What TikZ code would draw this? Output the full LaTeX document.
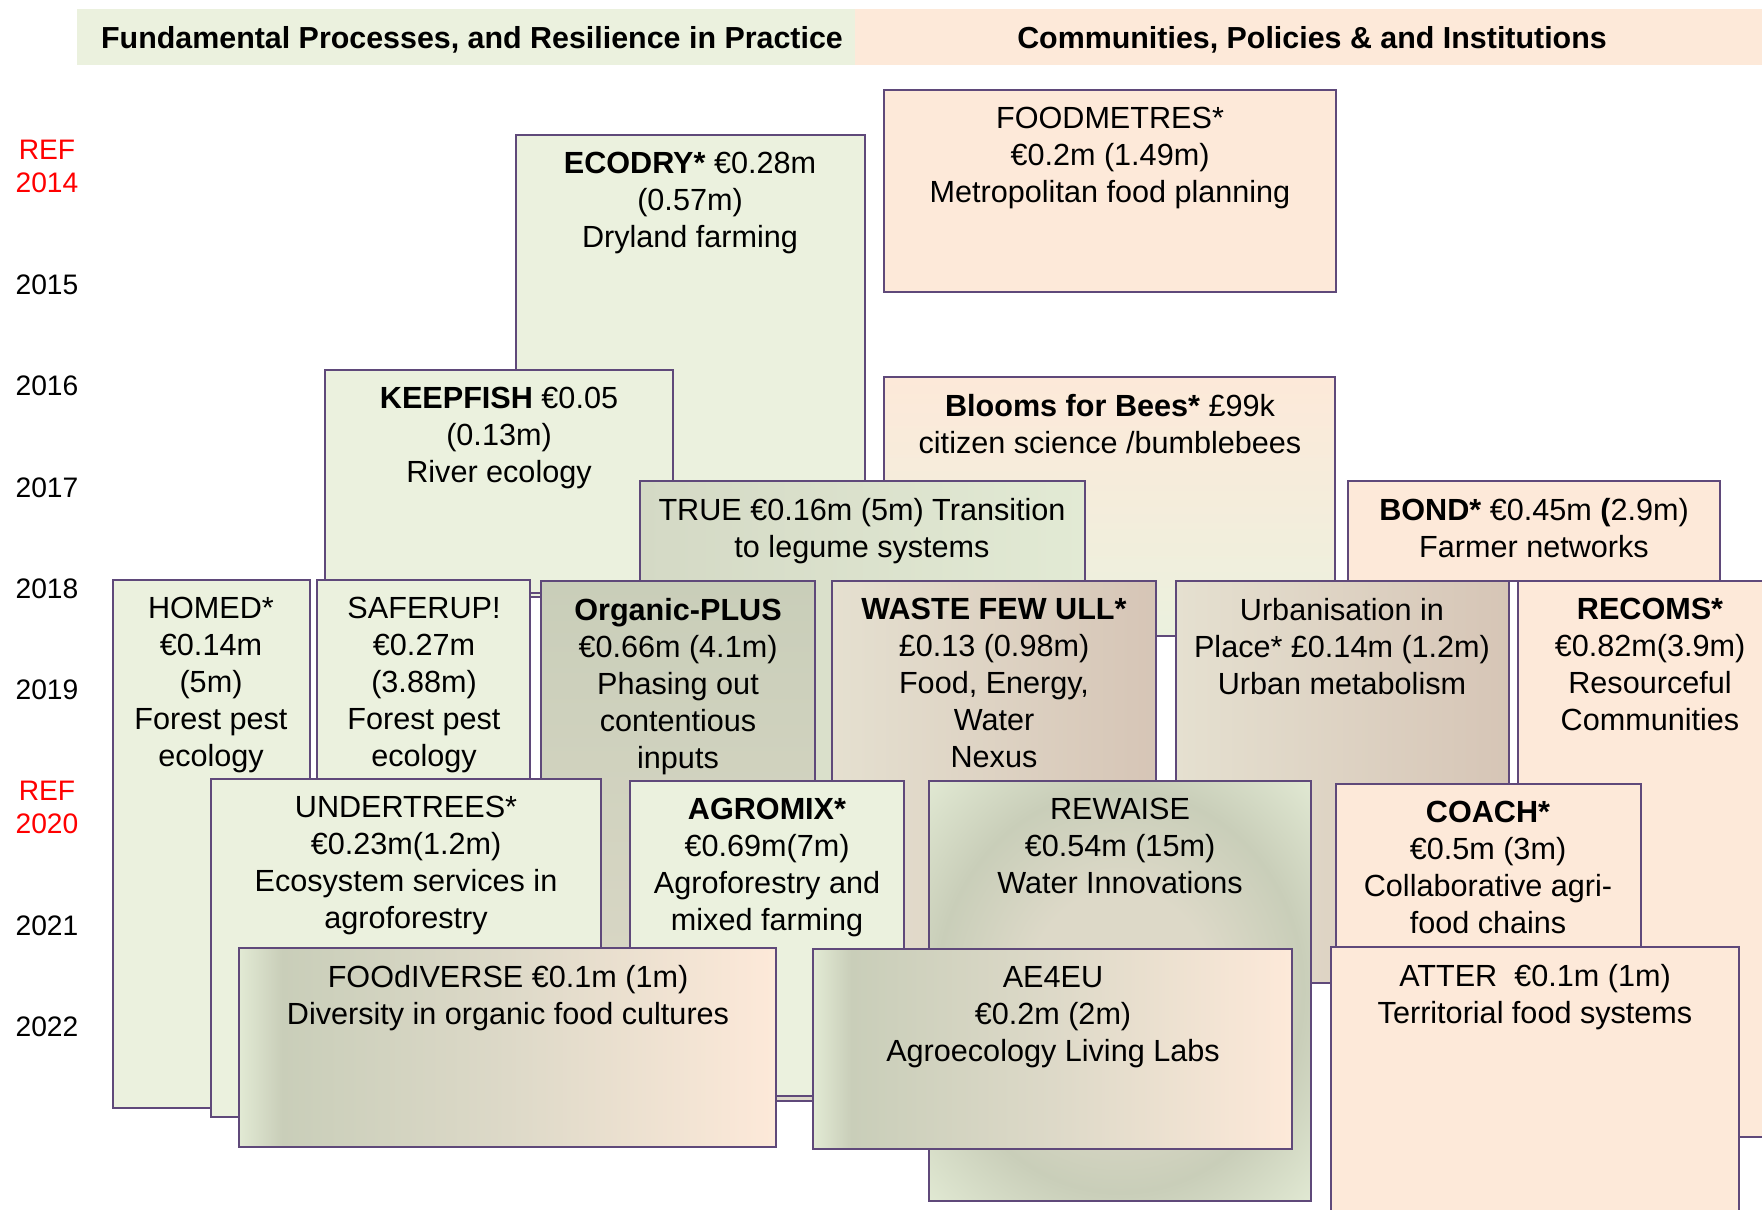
\documentclass[tikz,border=0pt]{standalone}
\usepackage{fontspec}
\setmainfont{Liberation Sans}
\definecolor{projgreen}{HTML}{EBF1DE}
\definecolor{projpeach}{HTML}{FDE9D9}
\definecolor{projline}{HTML}{5F497A}
\definecolor{projgrey}{HTML}{C9CEB9}
\definecolor{projlight}{HTML}{E2EAD4}
\definecolor{projsand}{HTML}{DDD9C8}
\definecolor{projtan}{HTML}{D6C5B6}
\definecolor{projbeige}{HTML}{E5E0D0}
\definecolor{projsage}{HTML}{D4D9C5}
\pgfdeclarehorizontalshading{mixshade}{100bp}{color(0bp)=(projlight); color(25bp)=(projlight); color(29bp)=(projgrey); color(50bp)=(projsand); color(75bp)=(projpeach); color(100bp)=(projpeach)}
\pgfdeclareradialshading{ringshade}{\pgfpoint{0bp}{0bp}}{color(0bp)=(projsand); color(12bp)=(projsand); color(24bp)=(projgrey); color(36bp)=(projlight); color(50bp)=(projlight)}
\tikzset{
  box/.style={draw=projline, line width=1.2pt},
  greenbox/.style={box, fill=projgreen},
  peachbox/.style={box, fill=projpeach},
  txt/.style={anchor=north, inner sep=0pt, align=center, font=\fontsize{15.3}{18.5}\selectfont},
  year/.style={inner sep=0pt, align=center, font=\fontsize{14.1}{16.5}\selectfont},
  head/.style={inner sep=0pt, font=\fontsize{15.2}{18}\selectfont\bfseries}
}
\begin{document}
\begin{tikzpicture}[x=0.5pt, y=-0.5pt]
\useasboundingbox (0,0) rectangle (1762,1210);
\path[fill=projgreen] (77,9) rectangle (855,65);
\path[fill=projpeach] (855,9) rectangle (1762,65);
\node[head] (headleft) at (472,40) {Fundamental Processes, and Resilience in Practice};
\node[head] (headright) at (1312,40) {Communities, Policies \& and Institutions};
\node[year, text=red] (ref2014) at (47,166) {REF\\2014};
\node[year] (y2015) at (47,285) {2015};
\node[year] (y2016) at (47,386) {2016};
\node[year] (y2017) at (47,488) {2017};
\node[year] (y2018) at (47,589) {2018};
\node[year] (y2019) at (47,690) {2019};
\node[year, text=red] (ref2020) at (47,807) {REF\\2020};
\node[year] (y2021) at (47,926) {2021};
\node[year] (y2022) at (47,1027) {2022};
\path[greenbox] (516,135) rectangle (865,597);
\node[txt] (ecodry) at (690,152) {\textbf{ECODRY*} €0.28m\\(0.57m)\\Dryland farming};
\path[peachbox] (884,90) rectangle (1336,292);
\node[txt] (foodmetres) at (1110,107) {FOODMETRES*\\€0.2m (1.49m)\\Metropolitan food planning};
\path[greenbox] (325,370) rectangle (673,593);
\node[txt] (keepfish) at (499,387) {\textbf{KEEPFISH} €0.05\\(0.13m)\\River ecology};
\path[box, top color=projpeach, bottom color=projgreen] (884,377) rectangle (1335,636);
\node[txt] (blooms) at (1110,394) {\textbf{Blooms for Bees*} £99k\\citizen science /bumblebees};
\path[box, left color=projsage, middle color=projgrey, right color=projlight] (640,481) rectangle (1085,800);
\node[txt] (true) at (862,498) {TRUE €0.16m (5m) Transition\\to legume systems};
\path[peachbox] (1348,481) rectangle (1720,581);
\node[txt] (bond) at (1534,498) {\textbf{BOND*} €0.45m \textbf{(}2.9m)\\Farmer networks};
\path[greenbox] (113,580) rectangle (310,1108);
\node[txt] (homed) at (211,597) {HOMED*\\€0.14m\\(5m)\\Forest pest\\ecology};
\path[greenbox] (317,580) rectangle (530,790);
\node[txt] (saferup) at (424,597) {SAFERUP!\\€0.27m\\(3.88m)\\Forest pest\\ecology};
\path[box, top color=projgrey, bottom color=projsand] (541,581) rectangle (815,1101);
\node[txt] (organic) at (678,598) {\textbf{Organic-PLUS}\\€0.66m (4.1m)\\Phasing out\\contentious\\inputs};
\path[box, left color=projbeige, right color=projtan] (832,581) rectangle (1156,1000);
\node[txt] (wastefew) at (994,598) {\textbf{WASTE FEW ULL*}\\£0.13 (0.98m)\\Food, Energy,\\Water\\Nexus};
\path[box, left color=projbeige, right color=projtan] (1176,581) rectangle (1509,983);
\node[txt] (urbanisation) at (1342,598) {Urbanisation in\\Place* £0.14m (1.2m)\\Urban metabolism};
\path[peachbox] (1518,581) rectangle (1782,1137);
\node[txt] (recoms) at (1650,598) {\textbf{RECOMS*}\\€0.82m(3.9m)\\Resourceful\\Communities};
\path[greenbox] (211,779) rectangle (601,1117);
\node[txt] (undertrees) at (406,796) {UNDERTREES*\\€0.23m(1.2m)\\Ecosystem services in\\agroforestry};
\path[greenbox] (630,781) rectangle (904,1096);
\node[txt] (agromix) at (767,798) {\textbf{AGROMIX*}\\€0.69m(7m)\\Agroforestry and\\mixed farming};
\path[box, shade, shading=ringshade] (929,781) rectangle (1311,1201);
\node[txt] (rewaise) at (1120,798) {REWAISE\\€0.54m (15m)\\Water Innovations};
\path[peachbox] (1336,784) rectangle (1641,960);
\node[txt] (coach) at (1488,801) {\textbf{COACH*}\\€0.5m (3m)\\Collaborative agri-\\food chains};
\path[box, shade, shading=mixshade] (239,948) rectangle (776,1147);
\node[txt] (foodiverse) at (508,965) {FOOdIVERSE €0.1m (1m)\\Diversity in organic food cultures};
\path[box, shade, shading=mixshade] (813,949) rectangle (1292,1149);
\node[txt] (ae4eu) at (1053,966) {AE4EU\\€0.2m (2m)\\Agroecology Living Labs};
\path[peachbox] (1331,947) rectangle (1739,1230);
\node[txt] (atter) at (1535,964) {ATTER\ \ €0.1m (1m)\\Territorial food systems};
\end{tikzpicture}
\end{document}
